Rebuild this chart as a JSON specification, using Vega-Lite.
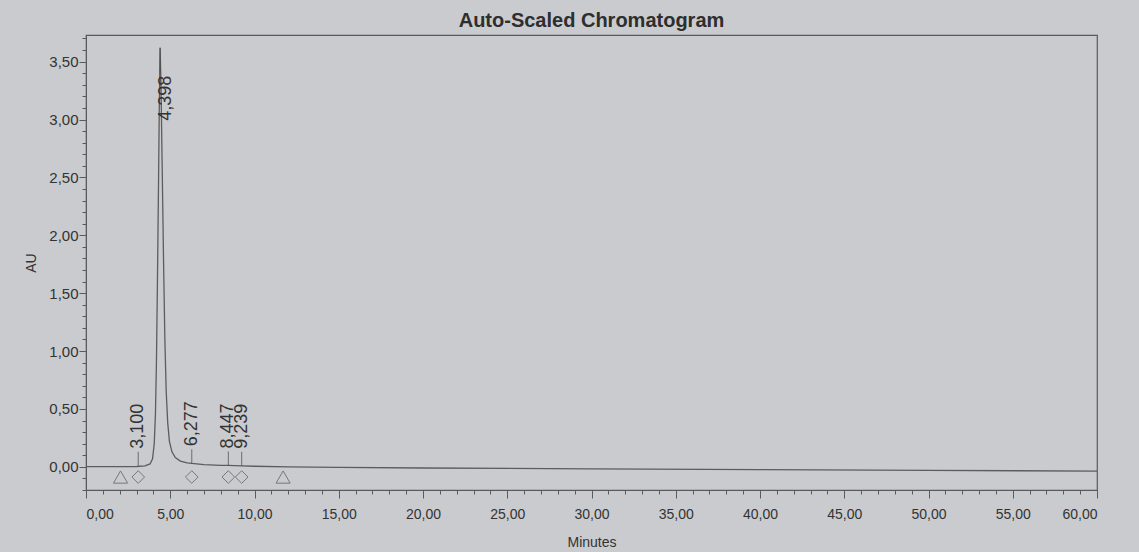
{
  "$schema": "https://vega.github.io/schema/vega-lite/v6.json",
  "autosize": {"type": "none"},
  "width": 1011,
  "height": 455,
  "padding": {"left": 86, "top": 35, "right": 42, "bottom": 62},
  "background": "#cacbce",
  "title": {"text": "Auto-Scaled Chromatogram", "font": "Liberation Sans", "fontSize": 20, "fontWeight": "bold", "color": "#2e2e2e", "offset": 4, "anchor": "middle"},
  "config": {
    "view": {"stroke": "#5a5a5a", "strokeWidth": 1.2},
    "axis": {"grid": false, "domainColor": "#5a5a5a", "tickColor": "#5a5a5a", "labelColor": "#333333", "titleColor": "#333333", "labelFont": "Liberation Sans", "titleFont": "Liberation Sans", "labelFontSize": 14, "titleFontSize": 14, "titleFontWeight": "normal"}
  },
  "datasets": {
    "trace": [
      {"t": 0, "au": 0.002}, {"t": 1, "au": 0.002}, {"t": 2, "au": 0.002}, {"t": 3, "au": 0.003},
      {"t": 3.5, "au": 0.008}, {"t": 3.8, "au": 0.025}, {"t": 3.95, "au": 0.07}, {"t": 4.05, "au": 0.2},
      {"t": 4.12, "au": 0.45}, {"t": 4.18, "au": 0.9}, {"t": 4.24, "au": 1.6}, {"t": 4.3, "au": 2.4},
      {"t": 4.35, "au": 3.1}, {"t": 4.398, "au": 3.62}, {"t": 4.45, "au": 3.3}, {"t": 4.52, "au": 2.6},
      {"t": 4.6, "au": 1.8}, {"t": 4.68, "au": 1.1}, {"t": 4.76, "au": 0.65}, {"t": 4.85, "au": 0.38},
      {"t": 4.95, "au": 0.22}, {"t": 5.1, "au": 0.13}, {"t": 5.3, "au": 0.08}, {"t": 5.6, "au": 0.05},
      {"t": 6.0, "au": 0.035}, {"t": 6.277, "au": 0.03}, {"t": 7.0, "au": 0.02}, {"t": 8.0, "au": 0.013},
      {"t": 8.447, "au": 0.012}, {"t": 9.239, "au": 0.009}, {"t": 10, "au": 0.005}, {"t": 12, "au": 0.0},
      {"t": 15, "au": -0.005}, {"t": 20, "au": -0.01}, {"t": 30, "au": -0.017}, {"t": 40, "au": -0.024},
      {"t": 50, "au": -0.03}, {"t": 60, "au": -0.037}
    ],
    "peaks": [
      {"rt": 3.1, "label": "3,100", "height": 0.01, "main": false},
      {"rt": 4.398, "label": "4,398", "height": 3.62, "main": true},
      {"rt": 6.277, "label": "6,277", "height": 0.03, "main": false},
      {"rt": 8.447, "label": "8,447", "height": 0.012, "main": false},
      {"rt": 9.239, "label": "9,239", "height": 0.009, "main": false}
    ],
    "markers": [
      {"rt": 2.05, "level": -0.088, "kind": "triangle"},
      {"rt": 11.7, "level": -0.088, "kind": "triangle"},
      {"rt": 3.1, "level": -0.088, "kind": "diamond"},
      {"rt": 6.277, "level": -0.088, "kind": "diamond"},
      {"rt": 8.447, "level": -0.088, "kind": "diamond"},
      {"rt": 9.239, "level": -0.088, "kind": "diamond"}
    ]
  },
  "encoding": {
    "x": {"type": "quantitative", "scale": {"domain": [0, 60], "nice": false, "zero": false},
      "axis": {"title": "Minutes", "titlePadding": 14,
        "values": [0,1,2,3,4,5,6,7,8,9,10,11,12,13,14,15,16,17,18,19,20,21,22,23,24,25,26,27,28,29,30,31,32,33,34,35,36,37,38,39,40,41,42,43,44,45,46,47,48,49,50,51,52,53,54,55,56,57,58,59,60],
        "labelExpr": "datum.value % 5 == 0 ? replace(format(datum.value, '.2f'), '.', ',') : ''",
        "tickSize": {"condition": {"test": "datum.value % 5 == 0", "value": 8}, "value": 4},
        "labelPadding": 9}},
    "y": {"type": "quantitative", "scale": {"domain": [-0.2, 3.73], "nice": false, "zero": false},
      "axis": {"title": "AU", "titlePadding": 10, "labelFontSize": 15,
        "values": [-0.2,-0.1,0,0.1,0.2,0.3,0.4,0.5,0.6,0.7,0.8,0.9,1,1.1,1.2,1.3,1.4,1.5,1.6,1.7,1.8,1.9,2,2.1,2.2,2.3,2.4,2.5,2.6,2.7,2.8,2.9,3,3.1,3.2,3.3,3.4,3.5,3.6,3.7],
        "labelExpr": "(abs(datum.value*2 - round(datum.value*2)) < 0.001 && datum.value > -0.01) ? replace(format(datum.value, '.2f'), '.', ',') : ''",
        "tickSize": {"condition": {"test": "abs(datum.value*2 - round(datum.value*2)) < 0.001", "value": 7}, "value": 4},
        "labelPadding": 1}}
  },
  "layer": [
    {
      "data": {"name": "trace"},
      "mark": {"type": "line", "color": "#5c5c5c", "strokeWidth": 1.3, "clip": true},
      "encoding": {"x": {"field": "t"}, "y": {"field": "au"}}
    },
    {
      "data": {"name": "peaks"},
      "transform": [{"filter": "!datum.main"}],
      "mark": {"type": "tick", "orient": "vertical", "size": 14, "yOffset": -7, "color": "#444444", "thickness": 1},
      "encoding": {"x": {"field": "rt"}, "y": {"field": "height"}}
    },
    {
      "data": {"name": "peaks"},
      "transform": [{"filter": "!datum.main"}],
      "mark": {"type": "text", "angle": 270, "align": "left", "baseline": "middle", "dx": 17, "font": "Liberation Sans", "fontSize": 18, "color": "#333333"},
      "encoding": {"x": {"field": "rt"}, "y": {"field": "height"}, "text": {"field": "label"}}
    },
    {
      "data": {"name": "peaks"},
      "transform": [{"filter": "datum.main"}],
      "mark": {"type": "tick", "orient": "vertical", "size": 26, "yOffset": 13, "color": "#444444", "thickness": 1},
      "encoding": {"x": {"field": "rt"}, "y": {"field": "height"}}
    },
    {
      "data": {"name": "peaks"},
      "transform": [{"filter": "datum.main"}],
      "mark": {"type": "text", "angle": 270, "align": "right", "baseline": "middle", "dx": -28, "dy": 6, "font": "Liberation Sans", "fontSize": 18, "color": "#333333"},
      "encoding": {"x": {"field": "rt"}, "y": {"field": "height"}, "text": {"field": "label"}}
    },
    {
      "data": {"name": "markers"},
      "mark": {"type": "point", "filled": false, "strokeWidth": 1, "color": "#555555"},
      "encoding": {
        "x": {"field": "rt"},
        "y": {"field": "level"},
        "shape": {"field": "kind", "type": "nominal", "scale": {"domain": ["triangle", "diamond"], "range": ["triangle-up", "diamond"]}, "legend": null},
        "size": {"field": "kind", "type": "nominal", "scale": {"domain": ["triangle", "diamond"], "range": [200, 160]}, "legend": null}
      }
    }
  ]
}
